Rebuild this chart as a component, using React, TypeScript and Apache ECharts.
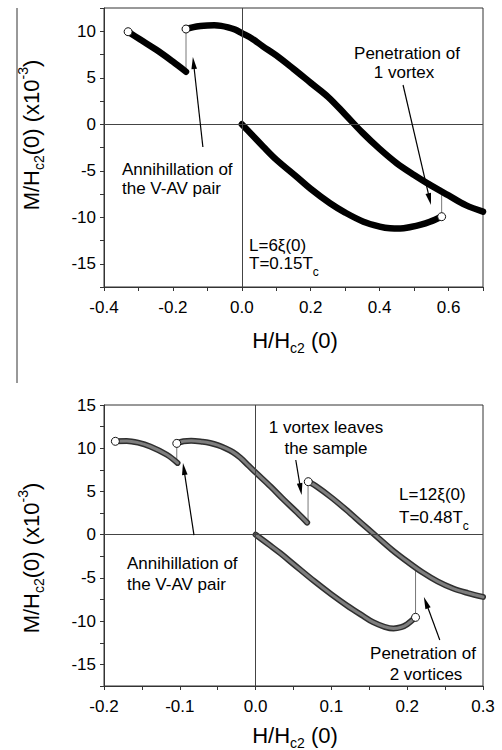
import React, { useEffect, useRef } from "react";
import * as echarts from "echarts";

const FONT = "'Liberation Sans', Arial, Helvetica, sans-serif";

// ---------- Panel (a): L = 6ξ(0), T = 0.15Tc ----------
const aBranchLeft: number[][] = [
  [-0.33, 9.95], [-0.296, 9.13], [-0.247, 7.98], [-0.2, 6.73], [-0.162, 5.65],
];
const aBranchMain: number[][] = [
  [-0.162, 10.24], [-0.14, 10.45], [-0.12, 10.56], [-0.1, 10.62], [-0.08, 10.64],
  [-0.06, 10.58], [-0.04, 10.42], [-0.02, 10.18], [0, 9.8], [0.03, 9.2],
  [0.06, 8.4], [0.1, 7.4], [0.15, 5.95], [0.2, 4.45], [0.25, 2.95],
  [0.3, 1.05], [0.35, -0.9], [0.4, -2.65], [0.45, -4.2], [0.5, -5.45],
  [0.55, -6.6], [0.6, -7.65], [0.65, -8.7], [0.7, -9.4],
];
const aBranchVirgin: number[][] = [
  [0, 0], [0.03, -1.15], [0.0624, -2.41], [0.1, -3.8], [0.159, -5.64],
  [0.2, -6.95], [0.256, -8.5], [0.3, -9.5], [0.353, -10.48], [0.4, -11.0],
  [0.43, -11.19], [0.46, -11.22], [0.49, -11.05], [0.52, -10.8], [0.546, -10.48],
  [0.58, -9.94],
];
const aJumps: number[][][] = [
  [[-0.162, 5.65], [-0.162, 10.24]],
  [[0.58, -9.94], [0.58, -7.3]],
];
const aOpenPoints: number[][] = [[-0.33, 9.95], [-0.162, 10.24], [0.58, -9.94]];

// ---------- Panel (b): L = 12ξ(0), T = 0.48Tc ----------
const bBranch1: number[][] = [
  [-0.185, 10.8], [-0.17, 10.85], [-0.155, 10.65], [-0.139, 10.2], [-0.117, 9.25], [-0.103, 8.3],
];
const bBranch2: number[][] = [
  [-0.104, 10.56], [-0.095, 10.8], [-0.085, 10.87], [-0.07, 10.75], [-0.06, 10.6],
  [-0.05, 10.35], [-0.04, 10.0], [-0.03, 9.55], [-0.02, 8.9], [-0.01, 8.05], [0, 7.2],
  [0.02, 5.55], [0.037, 4.05], [0.055, 2.55], [0.068, 1.4],
];
const bBranch3: number[][] = [
  [0.0695, 6.13], [0.08, 5.6], [0.1, 4.3], [0.12, 2.85], [0.14, 1.3], [0.157, 0],
  [0.18, -1.75], [0.2, -3.1], [0.22, -4.35], [0.24, -5.4], [0.26, -6.2], [0.28, -6.75], [0.3, -7.2],
];
const bBranchVirgin: number[][] = [
  [0, 0], [0.02, -1.3], [0.033, -2.17], [0.05, -3.4], [0.077, -5.35], [0.1, -6.9],
  [0.12, -8.15], [0.14, -9.3], [0.155, -10.12], [0.17, -10.65], [0.182, -10.85], [0.192, -10.7],
  [0.2, -10.35], [0.211, -9.56],
];
const bJumps: number[][][] = [
  [[-0.104, 8.3], [-0.104, 10.56]],
  [[0.0692, 1.4], [0.0692, 6.13]],
  [[0.211, -9.56], [0.211, -3.9]],
];
const bOpenPoints: number[][] = [[-0.185, 10.8], [-0.104, 10.56], [0.0695, 6.13], [0.211, -9.56]];

// ---------- Axes ----------
const aXAxis = { min: -0.4, max: 0.7, step: 0.1, labelStep: 0.2, digits: 1 };
const aYAxis = { min: -17.5, max: 12.5, step: 2.5, labelStep: 5, digits: 0 };
const bXAxis = { min: -0.2, max: 0.3, step: 0.05, labelStep: 0.1, digits: 1 };
const bYAxis = { min: -17.5, max: 15, step: 2.5, labelStep: 5, digits: 0 };

// ---------- Annotation arrows (data coords: tail -> head) ----------
const aArrows: number[][][] = [
  [[-0.113, -2.45], [-0.142, 7.23]],
  [[0.468, 4.22], [0.549, -8.68]],
];
const bArrows: number[][][] = [
  [[-0.0813, -0.04], [-0.0958, 8.29]],
  [[0.053, 8.64], [0.0607, 4.59]],
  [[0.243, -12.18], [0.222, -7.2]],
];

const isMult = (v: number, s: number) => Math.abs(v / s - Math.round(v / s)) < 1e-6;

function makeAxis(kind: "x" | "y", gi: number, ax: any) {
  return {
    type: "value",
    gridIndex: gi,
    min: ax.min,
    max: ax.max,
    interval: ax.step,
    axisLine: { show: true, onZero: false, lineStyle: { color: "#333", width: 1 } },
    axisTick: { show: true, inside: false, length: 4, lineStyle: { color: "#333", width: 1 } },
    splitLine: { show: false },
    axisLabel: {
      color: "#000",
      fontFamily: FONT,
      fontSize: 17,
      margin: kind === "x" ? 12 : 8,
      formatter: (v: number) => (isMult(v, ax.labelStep) ? (Math.abs(v) < 1e-9 ? (0).toFixed(ax.digits) : v.toFixed(ax.digits)) : ""),
    },
  };
}

const curveBase = { type: "line", symbol: "none", showSymbol: false, smooth: 0.35, silent: true };

function blackCurve(gi: number, data: number[][]) {
  return {
    ...curveBase, xAxisIndex: gi, yAxisIndex: gi, data, z: 3,
    lineStyle: { color: "#000", width: 6.5, cap: "round", join: "round" },
  };
}
function greyCurve(gi: number, data: number[][]) {
  return [
    { ...curveBase, xAxisIndex: gi, yAxisIndex: gi, data, z: 3,
      lineStyle: { color: "#2f2f2f", width: 6, cap: "round", join: "round" } },
    { ...curveBase, xAxisIndex: gi, yAxisIndex: gi, data, z: 4,
      lineStyle: { color: "#7e7e7e", width: 3, cap: "round", join: "round" } },
  ];
}
function jumpSeries(gi: number, jumps: number[][][]) {
  return jumps.map((d, i) => ({
    type: "line", xAxisIndex: gi, yAxisIndex: gi, data: d, symbol: "none", showSymbol: false,
    silent: true, z: 2,
    lineStyle: { color: "#555", width: 0.8 },
    markLine: i === 0 ? {
      silent: true, symbol: ["none", "none"], label: { show: false },
      lineStyle: { color: "#444", width: 1, type: "solid" },
      data: [{ xAxis: 0 }, { yAxis: 0 }],
    } : undefined,
  }));
}
function openSeries(gi: number, data: number[][]) {
  return {
    type: "scatter", xAxisIndex: gi, yAxisIndex: gi, data, symbol: "circle", symbolSize: 8,
    silent: true, z: 6,
    itemStyle: { color: "#ffffff", borderColor: "#111", borderWidth: 1, opacity: 1 },
  };
}

const richTitle = {
  m: { fontSize: 22, fontFamily: FONT, color: "#000", lineHeight: 30 },
  s: { fontSize: 14, fontFamily: FONT, color: "#000", verticalAlign: "bottom", lineHeight: 16 },
  p: { fontSize: 14, fontFamily: FONT, color: "#000", verticalAlign: "top", lineHeight: 16 },
};
const richAnn = {
  m: { fontSize: 17, fontFamily: FONT, color: "#000", lineHeight: 30 },
  s: { fontSize: 12, fontFamily: FONT, color: "#000", verticalAlign: "bottom", lineHeight: 10 },
};

function txt(x: number, y: number, text: string, align = "left", rich?: any, rotation = 0) {
  return {
    type: "text", x, y, rotation, silent: true, z: 10,
    style: { text, fontSize: 17, fontFamily: FONT, fill: "#000", align, verticalAlign: "middle", rich },
  };
}

export default function App() {
  const ref = useRef<HTMLDivElement>(null);
  useEffect(() => {
    document.body.style.margin = "0";
    const chart = echarts.init(ref.current!, null, { renderer: "svg" });
    chart.setOption({
      animation: false,
      backgroundColor: "#fff",
      grid: [
        { left: 104, top: 8, width: 379, height: 279, show: true, borderColor: "#333", borderWidth: 1, backgroundColor: "transparent" },
        { left: 104, top: 405, width: 379, height: 281, show: true, borderColor: "#333", borderWidth: 1, backgroundColor: "transparent" },
      ],
      xAxis: [makeAxis("x", 0, aXAxis), makeAxis("x", 1, bXAxis)],
      yAxis: [makeAxis("y", 0, aYAxis), makeAxis("y", 1, bYAxis)],
      series: [
        ...jumpSeries(0, aJumps),
        blackCurve(0, aBranchLeft),
        blackCurve(0, aBranchMain),
        blackCurve(0, aBranchVirgin),
        openSeries(0, aOpenPoints),
        ...jumpSeries(1, bJumps),
        ...greyCurve(1, bBranch1),
        ...greyCurve(1, bBranch2),
        ...greyCurve(1, bBranch3),
        ...greyCurve(1, bBranchVirgin),
        openSeries(1, bOpenPoints),
      ],
    });

    const arrow = (gi: number, tail: number[], head: number[]) => {
      const [x1, y1] = chart.convertToPixel({ gridIndex: gi }, tail) as number[];
      const [x2, y2] = chart.convertToPixel({ gridIndex: gi }, head) as number[];
      const dx = x2 - x1, dy = y2 - y1;
      const len = Math.hypot(dx, dy);
      const ux = dx / len, uy = dy / len;
      const L = 12, W = 2.8;
      const bx = x2 - ux * L, by = y2 - uy * L;
      return [
        { type: "line", silent: true, z: 9, shape: { x1, y1, x2: bx + ux * 2, y2: by + uy * 2 }, style: { stroke: "#000", lineWidth: 1.2 } },
        {
          type: "polygon", silent: true, z: 9,
          shape: { points: [[x2, y2], [bx - uy * W, by + ux * W], [bx + uy * W, by - ux * W]] },
          style: { fill: "#000" },
        },
      ];
    };

    const yTitle = "{m|M/H}{s|c2}{m|(0) (x10}{p|-3}{m|)}";
    const xTitle = "{m|H/H}{s|c2}{m| (0)}";

    chart.setOption({
      graphic: [
        { type: "line", silent: true, shape: { x1: 17, y1: 8, x2: 17, y2: 383 }, style: { stroke: "#333", lineWidth: 1 } },
        txt(31, 135, yTitle, "center", richTitle, Math.PI / 2),
        txt(31, 558, yTitle, "center", richTitle, Math.PI / 2),
        txt(295, 340, xTitle, "center", richTitle),
        txt(295, 735, xTitle, "center", richTitle),
        // panel (a)
        txt(122, 169, "Annihillation of"),
        txt(122, 188, "the V-AV pair"),
        txt(407, 53, "Penetration of", "center"),
        txt(404, 72, "1 vortex", "center"),
        txt(249, 245, "L=6ξ(0)"),
        txt(249, 263, "{m|T=0.15T}{s|c}", "left", richAnn),
        // panel (b)
        txt(127, 563, "Annihillation of"),
        txt(127, 584, "the V-AV pair"),
        txt(326, 427, "1 vortex leaves", "center"),
        txt(326, 448, "the sample", "center"),
        txt(399, 494, "L=12ξ(0)"),
        txt(399, 517, "{m|T=0.48T}{s|c}", "left", richAnn),
        txt(423, 653, "Penetration of", "center"),
        txt(426, 674, "2 vortices", "center"),
        ...aArrows.flatMap((a) => arrow(0, a[0], a[1])),
        ...bArrows.flatMap((a) => arrow(1, a[0], a[1])),
      ],
    });
    return () => chart.dispose();
  }, []);
  return <div ref={ref} style={{ width: 502, height: 750 }} />;
}
